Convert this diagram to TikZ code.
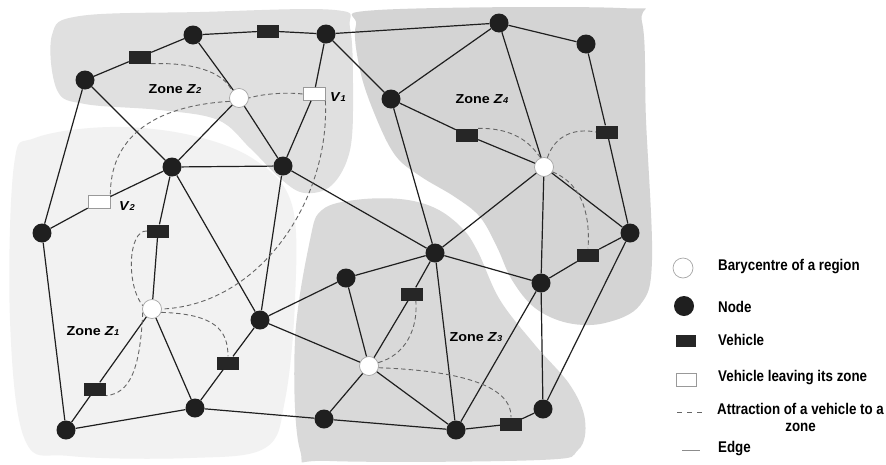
\documentclass[tikz,border=0pt]{standalone}
\usepackage{fontspec}
\setmainfont{Liberation Sans}
\newfontfamily\zfont[FakeStretch=1.1]{Liberation Sans}
\newfontfamily\lfont[FakeStretch=0.86]{Liberation Sans}
\begin{document}
\begin{tikzpicture}[x=1pt,y=-1pt,
  nd/.style={circle,fill=black!88,minimum size=19pt,inner sep=0pt},
  bc/.style={circle,draw=black!35,line width=0.7pt,fill=white,minimum size=19pt,inner sep=0pt},
  vh/.style={rectangle,fill=black!85,minimum width=22pt,minimum height=13pt,inner sep=0pt},
  vl/.style={rectangle,draw=black!40,line width=0.8pt,fill=white,minimum width=22pt,minimum height=13pt,inner sep=0pt},
  ed/.style={line width=1.2pt,draw=black!88},
  attr/.style={line width=0.9pt,draw=black!60,dash pattern=on 4.5pt off 3pt},
  zl/.style={font=\zfont\bfseries\fontsize{13}{15}\selectfont,inner sep=0pt},
  lg/.style={font=\lfont\bfseries\fontsize{15.5}{17}\selectfont,inner sep=0pt,anchor=west}]
\useasboundingbox (0,0) rectangle (886,464);
\fill[white] (0,0) rectangle (886,464);
% zones
\fill[black!5] plot[smooth cycle,tension=0.6] coordinates {(14,165) (35,138) (110,127) (190,135) (255,160) (292,205) (295,300) (285,400) (265,448) (190,458) (70,456) (25,440) (10,320)};
\fill[black!12] plot[smooth cycle,tension=0.6] coordinates {(52,35) (80,16) (200,12) (335,10) (350,28) (353,90) (350,150) (332,185) (305,193) (282,180) (250,148) (218,120) (160,110) (85,104) (57,90)};
\fill[black!17] plot[smooth cycle,tension=0.6] coordinates {(356,25) (378,10) (620,8) (642,22) (646,120) (652,260) (640,305) (605,323) (568,323) (535,308) (512,280) (497,247) (480,217) (455,197) (420,176) (395,155) (375,115) (360,70)};
\fill[black!15] plot[smooth cycle,tension=0.6] coordinates {(310,240) (322,210) (355,200) (400,199) (435,208) (462,228) (478,252) (500,300) (535,345) (570,385) (585,420) (578,450) (540,460) (330,461) (300,450) (295,340)};
% nodes
\node[nd] (A) at (193,35) {};
\node[nd] (B) at (326,34) {};
\node[nd] (C) at (85,80) {};
\node[nd] (D) at (172,167) {};
\node[nd] (E) at (283,166) {};
\node[nd] (F) at (42,233) {};
\node[nd] (G) at (391,99) {};
\node[nd] (H) at (499,23) {};
\node[nd] (I) at (586,44) {};
\node[nd] (J) at (630,233) {};
\node[nd] (K) at (435,253) {};
\node[nd] (L) at (346,278) {};
\node[nd] (M) at (260,320) {};
\node[nd] (N) at (541,283) {};
\node[nd] (O) at (66,430) {};
\node[nd] (P) at (195,408) {};
\node[nd] (Q) at (324,419) {};
\node[nd] (R) at (456,430) {};
\node[nd] (S) at (543,409) {};
\node[bc] (Z1) at (152,309) {};
\node[bc] (Z2) at (239,98) {};
\node[bc] (Z3) at (369,366) {};
\node[bc] (Z4) at (544,167) {};
\node[vh] (vCA) at (140,57) {};
\node[vh] (vAB) at (268,31) {};
\node[vh] (vGZ) at (467,135) {};
\node[vh] (vIJ) at (607,132) {};
\node[vh] (vNJ) at (588,255) {};
\node[vh] (vDZ) at (158,231) {};
\node[vh] (vZO) at (95,389) {};
\node[vh] (vMP) at (228,363) {};
\node[vh] (vKZ) at (412,294) {};
\node[vh] (vRS) at (511,424) {};
\node[vl] (V1) at (314,94) {};
\node[vl] (V2) at (99,202) {};
% edges
\draw[ed] (C) -- (vCA) -- (A);
\draw[ed] (A) -- (vAB) -- (B);
\draw[ed] (B) -- (H);
\draw[ed] (A) -- (Z2);
\draw[ed] (B) -- (V1) -- (E);
\draw[ed] (B) -- (G);
\draw[ed] (C) -- (D);
\draw[ed] (C) -- (F);
\draw[ed] (Z2) -- (D);
\draw[ed] (Z2) -- (E);
\draw[ed] (D) -- (E);
\draw[ed] (F) -- (V2) -- (D);
\draw[ed] (D) -- (vDZ) -- (Z1);
\draw[ed] (D) -- (M);
\draw[ed] (E) -- (M);
\draw[ed] (E) -- (K);
\draw[ed] (G) -- (H);
\draw[ed] (G) -- (vGZ) -- (Z4);
\draw[ed] (G) -- (K);
\draw[ed] (H) -- (I);
\draw[ed] (H) -- (Z4);
\draw[ed] (I) -- (vIJ) -- (J);
\draw[ed] (Z4) -- (J);
\draw[ed] (Z4) -- (K);
\draw[ed] (Z4) -- (N);
\draw[ed] (N) -- (vNJ) -- (J);
\draw[ed] (J) -- (S);
\draw[ed] (K) -- (L);
\draw[ed] (K) -- (N);
\draw[ed] (K) -- (vKZ) -- (Z3);
\draw[ed] (K) -- (R);
\draw[ed] (L) -- (M);
\draw[ed] (L) -- (Z3);
\draw[ed] (M) -- (Z3);
\draw[ed] (Z1) -- (vZO) -- (O);
\draw[ed] (Z1) -- (P);
\draw[ed] (F) -- (O);
\draw[ed] (O) -- (P);
\draw[ed] (P) -- (Q);
\draw[ed] (P) -- (vMP) -- (M);
\draw[ed] (Z3) -- (Q);
\draw[ed] (Z3) -- (R);
\draw[ed] (Q) -- (R);
\draw[ed] (R) -- (N);
\draw[ed] (N) -- (S);
\draw[ed] (R) -- (vRS) -- (S);
% attraction curves
\draw[attr] (vCA.south east) .. controls (200,62) and (225,75) .. (Z2.north west);
\draw[attr] (V1.west) .. controls (285,92) and (262,94) .. (Z2.east);
\draw[attr] (Z2.200) .. controls (150,106) and (110,140) .. (V2.north east);
\draw[attr] (V1.south east) .. controls (330,200) and (260,305) .. (Z1.east);
\draw[attr] (vDZ.west) .. controls (128,230) and (126,285) .. (Z1.160);
\draw[attr] (Z1.200) .. controls (140,370) and (130,393) .. (vZO.south east);
\draw[attr] (Z1.-20) .. controls (215,314) and (228,330) .. (vMP.north);
\draw[attr] (vGZ.north east) .. controls (520,128) and (533,148) .. (Z4.110);
\draw[attr] (Z4.70) .. controls (555,135) and (575,128) .. (vIJ.west);
\draw[attr] (Z4.-30) .. controls (585,185) and (590,220) .. (vNJ.north);
\draw[attr] (Z3.20) .. controls (405,355) and (418,330) .. (vKZ.-60);
\draw[attr] (Z3.-10) .. controls (440,370) and (512,380) .. (vRS.north);
% labels
\node[zl] (tZ2) at (175,89) {Zone \textit{Z}{\fontsize{8.5}{8.5}\selectfont\textit{2}}};
\node[zl] (tZ4) at (482,99) {Zone \textit{Z}{\fontsize{8.5}{8.5}\selectfont\textit{4}}};
\node[zl] (tZ1) at (93,331) {Zone \textit{Z}{\fontsize{8.5}{8.5}\selectfont\textit{1}}};
\node[zl] (tZ3) at (476,337) {Zone \textit{Z}{\fontsize{8.5}{8.5}\selectfont\textit{3}}};
\node[zl] (tV1) at (338,97) {\textit{V}{\fontsize{8.5}{8.5}\selectfont\textit{1}}};
\node[zl] (tV2) at (127,206) {\textit{V}{\fontsize{8.5}{8.5}\selectfont\textit{2}}};
% legend
\node[bc,minimum size=20pt] (lb) at (683,268) {};
\node[nd,minimum size=20pt] (ln) at (684,306) {};
\node[vh,minimum width=20pt,minimum height=12pt] (lv) at (686,341) {};
\node[vl,minimum width=20pt,minimum height=13pt] (ll) at (686,380) {};
\coordinate (la1) at (677,412);
\coordinate (la2) at (703,412);
\draw[attr,dash pattern=on 5pt off 5pt] (la1) -- (la2);
\coordinate (le1) at (682,450);
\coordinate (le2) at (700,450);
\draw[line width=1pt,black!45] (le1) -- (le2);
\node[lg] (tb) at (718,267) {Barycentre of a region};
\node[lg] (tn) at (718,307) {Node};
\node[lg] (tv) at (718,340) {Vehicle};
\node[lg] (tl) at (718,378) {Vehicle leaving its zone};
\node[lg,align=center] (ta) at (717,417) {Attraction of a vehicle to a\\zone};
\node[lg] (te) at (718,449) {Edge};
\end{tikzpicture}
\end{document}
